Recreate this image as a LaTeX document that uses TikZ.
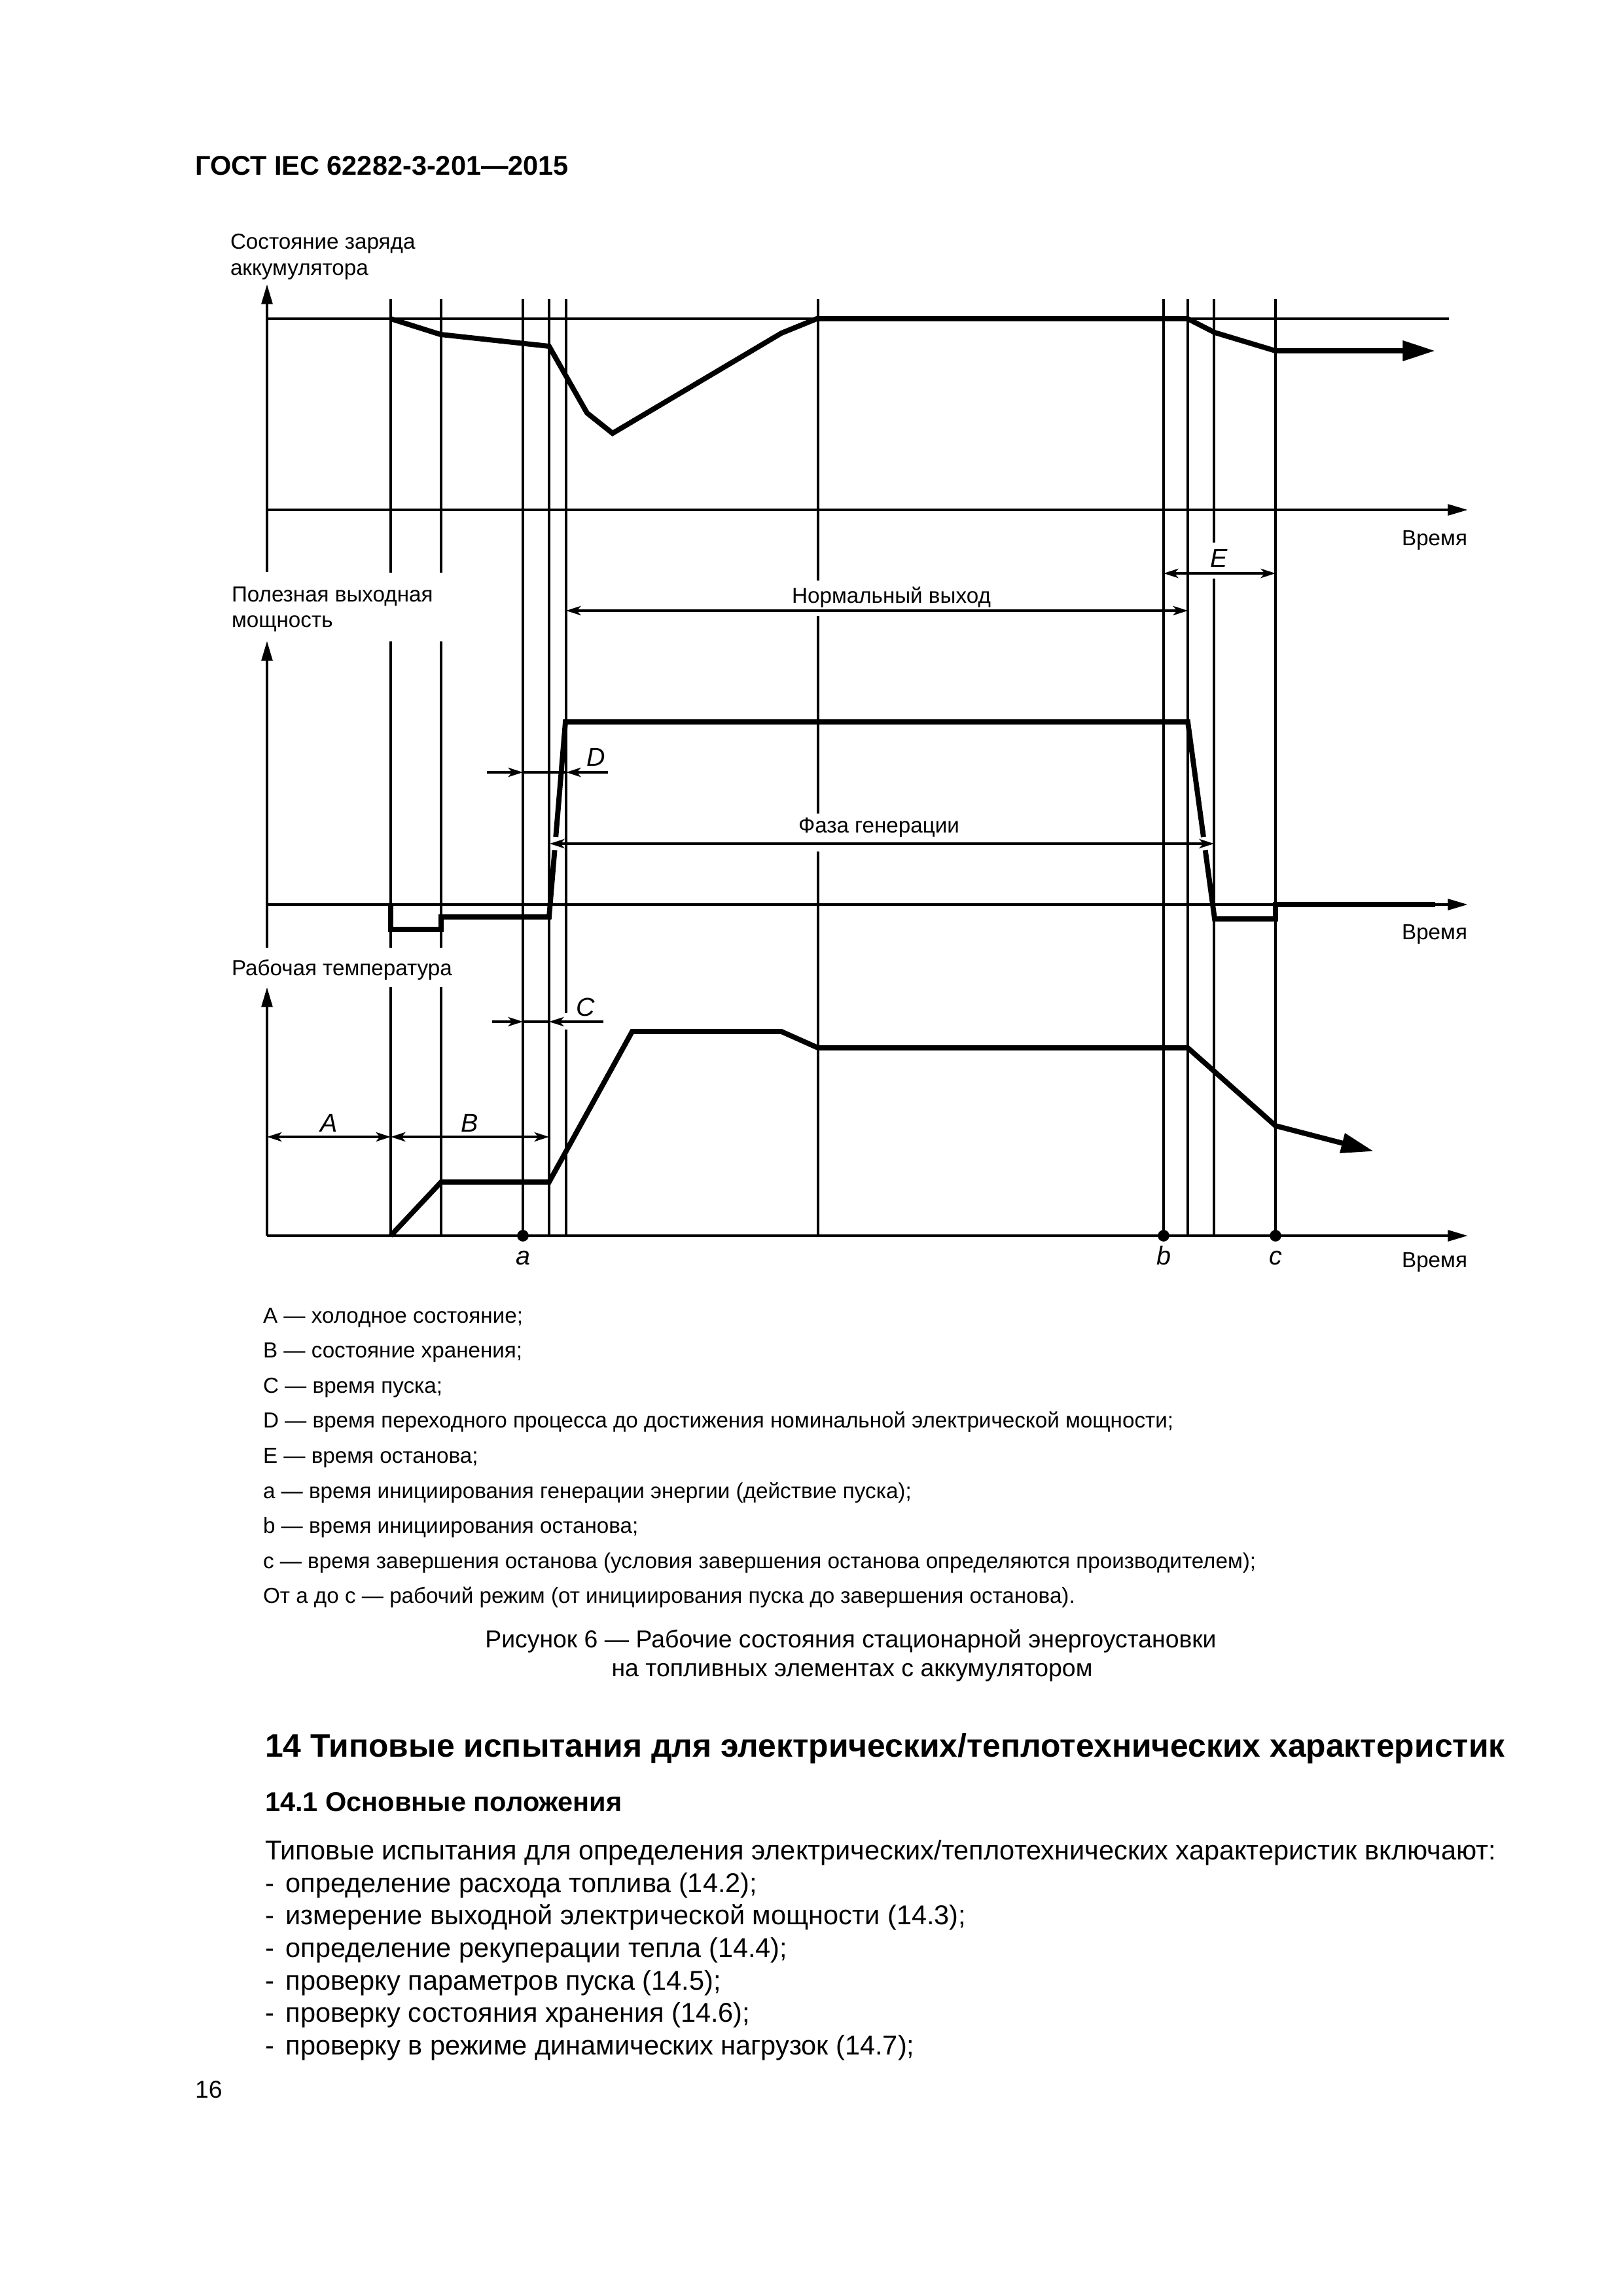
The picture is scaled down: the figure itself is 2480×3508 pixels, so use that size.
\documentclass[tikz,border=0pt]{standalone}
\usepackage{fontspec}
\setmainfont{Liberation Sans}
\usepackage{tikz}
\usetikzlibrary{arrows.meta}

\newcommand{\figtext}{\fontsize{8pt}{9.6pt}\selectfont}
\newcommand{\lettertext}{\fontsize{9.5pt}{11pt}\selectfont\itshape}
\newcommand{\captext}{\fontsize{9pt}{10.8pt}\selectfont}
\newcommand{\bodytext}{\fontsize{10pt}{12pt}\selectfont}
\newcommand{\secttext}{\fontsize{12pt}{14pt}\selectfont\bfseries}

\tikzset{
  dimtip/.tip={Stealth[length=1.9mm,width=1.2mm,inset=0.5mm]},
  axtip/.tip={Triangle[length=2.6mm,width=1.4mm]},
  bigtip/.tip={Triangle[length=4.2mm,width=2.5mm]}
}

\begin{document}
\begin{tikzpicture}
      [x=0.08467mm,y=-0.08467mm,
      every node/.style={inner sep=0pt,outer sep=0pt},
      gridline/.style={line width=1pt},
      axisline/.style={line width=1.05pt},
      plotline/.style={line width=1.9pt,line join=miter},
      dimline/.style={line width=0.9pt},
      lbl/.style={anchor=base west,font=\figtext},
      tlbl/.style={anchor=base east,font=\figtext},
      letter/.style={anchor=base,font=\lettertext},
      leg/.style={anchor=base west,font=\figtext},
      item/.style={anchor=base west,font=\bodytext},
      dot/.style={circle,fill,minimum size=1.5mm,inner sep=0pt}]
\path[use as bounding box,fill=white] (0,0) rectangle (2480,3508);

% page head
\node[anchor=base west,font=\bodytext\bfseries] (gost) at (298,267) {ГОСТ IEC 62282-3-201—2015};

% axis titles
\node[lbl] (socA) at (352,380) {Состояние заряда};
\node[lbl] (socB) at (352,420) {аккумулятора};
\node[lbl] (powA) at (354,919) {Полезная выходная};
\node[lbl] (powB) at (354,958) {мощность};
\node[lbl] (tmpA) at (354,1490) {Рабочая температура};
\node[tlbl] (time1) at (2242,833) {Время};
\node[tlbl] (time2) at (2242,1435) {Время};
\node[tlbl] (time3) at (2242,1936) {Время};

% axes
\draw[axisline,-{axtip}] (408,874) -- (408,434);
\draw[axisline,-{axtip}] (408,1448) -- (408,979);
\draw[axisline,-{axtip}] (408,1888) -- (408,1508);
\draw[axisline,-{axtip}] (408,779) -- (2243,779);
\draw[axisline,-{axtip}] (408,1382) -- (2243,1382);
\draw[axisline,-{axtip}] (408,1888) -- (2243,1888);
\draw[axisline] (408,487) -- (2214,487);

% time marks
\draw[gridline] (597,457) -- (597,875) (597,980) -- (597,1448) (597,1508) -- (597,1888)
   (674,457) -- (674,875) (674,980) -- (674,1448) (674,1508) -- (674,1888)
   (799,457) -- (799,1888) (839,457) -- (839,1888)
   (865,457) -- (865,1548) (865,1573) -- (865,1888)
   (1250,457) -- (1250,887) (1250,941) -- (1250,1243) (1250,1301) -- (1250,1888)
   (1778,457) -- (1778,1888) (1815,457) -- (1815,1888)
   (1855,457) -- (1855,829) (1855,884) -- (1855,1888)
   (1949,457) -- (1949,1888);

% curves
\draw[plotline,-{bigtip}] (597,487) -- (673,511) -- (839,529) -- (897,631) -- (936,662)
   -- (1194,509) -- (1248,487) -- (1815,487) -- (1856,508) -- (1949,536) -- (2193,536);
\draw[plotline] (597,1382) -- (597,1420) -- (674,1420) -- (674,1401) -- (839,1401)
   -- (864,1103) -- (1815,1103) -- (1856,1404) -- (1949,1404) -- (1949,1382) -- (2193,1382);
\draw[plotline,-{bigtip}] (597,1888) -- (674,1806) -- (839,1806) -- (966,1576) -- (1194,1576)
   -- (1250,1601) -- (1815,1601) -- (1949,1720) -- (2099,1759);
\draw[white,line width=2.6pt] (849.2,1279) -- (847.6,1299) (1839,1279) -- (1841.7,1299);

% intervals
\draw[dimline,{dimtip}-{dimtip}] (408,1737) -- (597,1737);
\draw[dimline,{dimtip}-{dimtip}] (597,1737) -- (839,1737);
\draw[dimline,-{dimtip}] (752,1561) -- (799,1561);
\draw[dimline] (799,1561) -- (839,1561);
\draw[dimline,-{dimtip}] (922,1561) -- (839,1561);
\draw[dimline,-{dimtip}] (744,1180) -- (799,1180);
\draw[dimline] (799,1180) -- (865,1180);
\draw[dimline,-{dimtip}] (929,1180) -- (865,1180);
\draw[dimline,{dimtip}-{dimtip}] (1778,876) -- (1949,876);
\draw[dimline,{dimtip}-{dimtip}] (865,933) -- (1815,933);
\draw[dimline,{dimtip}-{dimtip}] (840,1289) -- (1855,1289);

\node[letter] (A) at (503,1729) {A};
\node[letter] (B) at (718,1729) {B};
\node[letter] (C) at (895,1552) {C};
\node[letter] (D) at (911,1170) {D};
\node[letter] (E) at (1863,866) {E};
\node[anchor=base,font=\figtext] (normal) at (1362,921) {Нормальный выход};
\node[anchor=base,font=\figtext] (phase) at (1343,1272) {Фаза генерации};

% instants
\node[dot] (ta) at (799,1888) {};
\node[dot] (tb) at (1778,1888) {};
\node[dot] (tc) at (1949,1888) {};
\node[letter] (a) at (799,1932) {a};
\node[letter] (b) at (1778,1932) {b};
\node[letter] (c) at (1949,1932) {c};

% legend
\node[leg] (legA) at (402,2021) {A — холодное состояние;};
\node[leg] (legB) at (402,2074.6) {B — состояние хранения;};
\node[leg] (legC) at (402,2128.2) {C — время пуска;};
\node[leg] (legD) at (402,2181.8) {D — время переходного процесса до достижения номинальной электрической мощности;};
\node[leg] (legE) at (402,2235.4) {E — время останова;};
\node[leg] (lega) at (402,2289) {a — время инициирования генерации энергии (действие пуска);};
\node[leg] (legb) at (402,2342.6) {b — время инициирования останова;};
\node[leg] (legc) at (402,2396.2) {c — время завершения останова (условия завершения останова определяются производителем);};
\node[leg] (legac) at (402,2449.8) {От a до c — рабочий режим (от инициирования пуска до завершения останова).};
\node[anchor=base,font=\captext] (cap1) at (1300,2517) {Рисунок 6 — Рабочие состояния стационарной энергоустановки};
\node[anchor=base,font=\captext] (cap2) at (1302,2561) {на топливных элементах с аккумулятором};

% text below
\node[anchor=base west,font=\secttext] (sect) at (405,2684) {14 Типовые испытания для электрических/теплотехнических характеристик};
\node[anchor=base west,font=\bodytext\bfseries] (subsect) at (405,2767) {14.1 Основные положения};
\node[item] (intro) at (405,2841) {Типовые испытания для определения электрических/теплотехнических характеристик включают:};
\node[item] (it1) at (405,2891) {\makebox[7.6pt][l]{-}определение расхода топлива (14.2);};
\node[item] (it2) at (405,2940) {\makebox[7.6pt][l]{-}измерение выходной электрической мощности (14.3);};
\node[item] (it3) at (405,2990) {\makebox[7.6pt][l]{-}определение рекуперации тепла (14.4);};
\node[item] (it4) at (405,3040) {\makebox[7.6pt][l]{-}проверку параметров пуска (14.5);};
\node[item] (it5) at (405,3089) {\makebox[7.6pt][l]{-}проверку состояния хранения (14.6);};
\node[item] (it6) at (405,3139) {\makebox[7.6pt][l]{-}проверку в режиме динамических нагрузок (14.7);};
\node[anchor=base west,font=\fontsize{9pt}{10pt}\selectfont] (page) at (298,3205) {16};
\end{tikzpicture}
\end{document}
